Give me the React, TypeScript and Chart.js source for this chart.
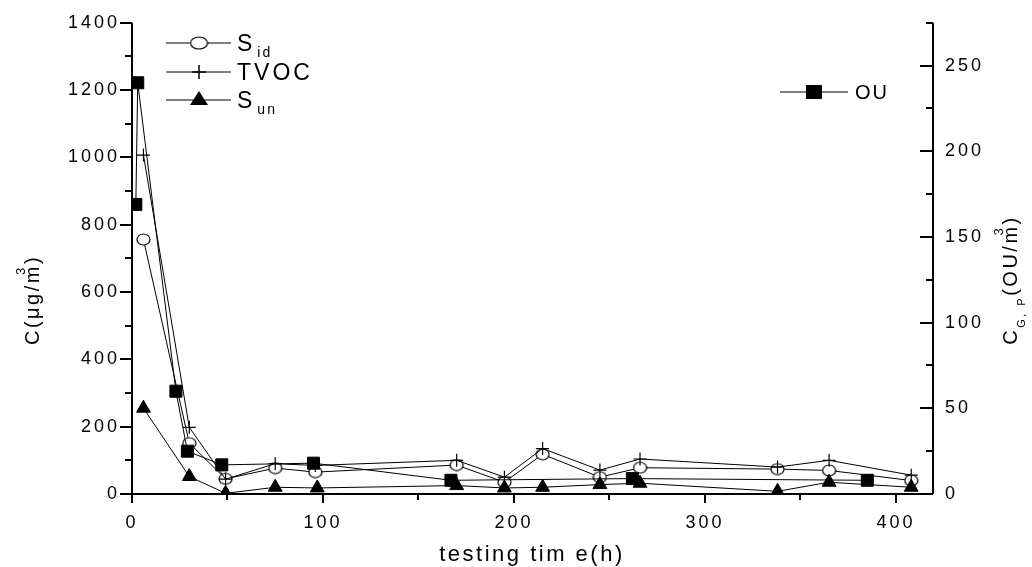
import React, { useEffect, useRef } from 'react';
import { Chart, registerables } from 'chart.js';

Chart.register(...registerables);

// ---- data ----
const timeSid = [6, 30, 49, 75, 96, 170, 195, 215, 245, 266, 338, 365, 408];
const valSid = [756, 151, 45, 77, 65, 86, 35, 118, 50, 78, 74, 70, 40];
const timeTvoc = [6, 30, 49, 75, 96, 170, 195, 215, 245, 266, 338, 365, 408];
const valTvoc = [1007, 198, 44, 90, 85, 100, 50, 135, 71, 104, 80, 100, 56];
const timeSun = [6, 30, 49, 75, 97, 170, 195, 215, 245, 266, 338, 365, 408];
const valSun = [255, 52, 2, 20, 18, 25, 18, 20, 28, 32, 8, 35, 20];
const timeOu = [2, 3, 23, 29, 47, 95, 167, 262, 385];
const valOu = [169, 240, 60, 25, 17, 18, 8, 9, 8];

const xTicks = [0, 100, 200, 300, 400];
const leftTicks = [0, 200, 400, 600, 800, 1000, 1200, 1400];
const rightTicks = [0, 50, 100, 150, 200, 250];

const FONT = "'Liberation Sans', Arial, Helvetica, sans-serif";

type Seg = { t: string; size: number; dy?: number; dx?: number; adv?: number };

function drawRich(ctx: CanvasRenderingContext2D, segs: Seg[], x: number, y: number, ls: string, center = true) {
  ctx.letterSpacing = ls;
  const widths = segs.map((s) => {
    ctx.font = `${s.size}px ${FONT}`;
    return s.adv !== undefined ? s.adv : ctx.measureText(s.t).width;
  });
  const total = widths.reduce((a, b) => a + b, 0);
  let cx = center ? x - total / 2 : x;
  segs.forEach((s, i) => {
    ctx.font = `${s.size}px ${FONT}`;
    ctx.fillText(s.t, cx + (s.dx || 0), y + (s.dy || 0));
    cx += widths[i];
  });
}

function makeEllipse(w: number, h: number) {
  const c = document.createElement('canvas');
  c.width = w + 2;
  c.height = h + 2;
  const g = c.getContext('2d')!;
  g.beginPath();
  g.ellipse((w + 2) / 2, (h + 2) / 2, w / 2, h / 2, 0, 0, Math.PI * 2);
  g.fillStyle = '#ffffff';
  g.fill();
  g.lineWidth = 1.2;
  g.strokeStyle = '#000000';
  g.stroke();
  return c;
}

export default function App() {
  const ref = useRef<HTMLCanvasElement>(null);

  useEffect(() => {
    const canvas = ref.current!;
    const sidMarker = makeEllipse(13, 11);
    const sidLegend = makeEllipse(17, 12);

    const pts = (xs: number[], ys: number[]) => xs.map((x, i) => ({ x, y: ys[i] }));

    const AREA = { left: 132, right: 933, top: 20, bottom: 494 };

    const decor = {
      id: 'decor',
      beforeDraw(chart: any) {
        chart.ctx.letterSpacing = '3px';
      },
      afterDraw(chart: any) {
        const ctx: CanvasRenderingContext2D = chart.ctx;
        const ca = chart.chartArea;
        const ys = chart.scales.y;
        const yr = chart.scales.y1;
        const xs = chart.scales.x;
        ctx.save();
        ctx.strokeStyle = '#000';
        ctx.fillStyle = '#000';
        // axis lines
        ctx.lineWidth = 2;
        ctx.beginPath();
        ctx.moveTo(ca.left, ca.top);
        ctx.lineTo(ca.left, ca.bottom);
        ctx.lineTo(ca.right, ca.bottom);
        ctx.moveTo(ca.right, ca.top);
        ctx.lineTo(ca.right, ca.bottom);
        ctx.stroke();
        // ticks
        ctx.lineWidth = 2;
        ctx.beginPath();
        for (let v = 0; v <= 1400; v += 100) {
          const py = Math.round(ys.getPixelForValue(v));
          const len = v % 200 === 0 ? 12 : 7;
          ctx.moveTo(ca.left - len, py);
          ctx.lineTo(ca.left, py);
        }
        for (let v = 0; v <= 275; v += 25) {
          const py = Math.round(yr.getPixelForValue(v));
          const len = v % 50 === 0 ? 13 : 7;
          ctx.moveTo(ca.right - len, py);
          ctx.lineTo(ca.right, py);
        }
        for (let v = 0; v <= 400; v += 50) {
          const px = Math.round(xs.getPixelForValue(v));
          const len = v % 100 === 0 ? 9 : 6;
          ctx.moveTo(px, ca.bottom);
          ctx.lineTo(px, ca.bottom + len);
        }
        ctx.stroke();

        // legend (left)
        ctx.lineWidth = 1;
        ctx.textBaseline = 'alphabetic';
        ctx.textAlign = 'left';
        const rows = [43, 72, 100];
        rows.forEach((ry) => {
          ctx.beginPath();
          ctx.moveTo(166, ry);
          ctx.lineTo(231, ry);
          ctx.stroke();
        });
        ctx.drawImage(sidLegend, 199 - sidLegend.width / 2, rows[0] - sidLegend.height / 2);
        ctx.lineWidth = 1.5;
        ctx.beginPath();
        ctx.moveTo(192, rows[1]);
        ctx.lineTo(206, rows[1]);
        ctx.moveTo(199, rows[1] - 7);
        ctx.lineTo(199, rows[1] + 7);
        ctx.stroke();
        ctx.beginPath();
        ctx.moveTo(199, rows[2] - 9);
        ctx.lineTo(208, rows[2] + 5);
        ctx.lineTo(190, rows[2] + 5);
        ctx.closePath();
        ctx.fill();
        drawRich(ctx, [{ t: 'S', size: 23 }, { t: 'id', size: 14, dy: 6, dx: 3 }], 237, rows[0] + 8, '2px', false);
        drawRich(ctx, [{ t: 'TVOC', size: 23 }], 237, rows[1] + 8, '3px', false);
        drawRich(ctx, [{ t: 'S', size: 23 }, { t: 'un', size: 14, dy: 6, dx: 3 }], 237, rows[2] + 8, '2px', false);

        // legend (right)
        ctx.lineWidth = 1;
        ctx.beginPath();
        ctx.moveTo(780, 92);
        ctx.lineTo(848, 92);
        ctx.stroke();
        ctx.fillRect(806, 85, 16, 14);
        drawRich(ctx, [{ t: 'OU', size: 20 }], 855, 99, '2px', false);

        // axis titles
        ctx.textBaseline = 'middle';
        ctx.save();
        ctx.translate(33, 300);
        ctx.rotate(-Math.PI / 2);
        drawRich(
          ctx,
          [
            { t: 'C(μg/m', size: 20 },
            { t: '3', size: 13, dy: -12, dx: -11, adv: 0 },
            { t: ')', size: 20 },
          ],
          0,
          0,
          '2.5px'
        );
        ctx.restore();

        ctx.save();
        ctx.translate(1011, 280);
        ctx.rotate(-Math.PI / 2);
        drawRich(
          ctx,
          [
            { t: 'C', size: 20 },
            { t: 'G, P', size: 11, dy: 11 },
            { t: '(OU/m', size: 20 },
            { t: '3', size: 13, dy: -12, dx: -11, adv: 0 },
            { t: ')', size: 20 },
          ],
          0,
          0,
          '2.5px'
        );
        ctx.restore();

        ctx.textBaseline = 'alphabetic';
        drawRich(ctx, [{ t: 'testing tim e(h)', size: 22 }], 532, 561, '2.5px');
        ctx.restore();
      },
    };

    const lineDs = (label: string, data: any[], axis: string, style: any) => ({
      label,
      data,
      yAxisID: axis,
      borderColor: '#000',
      borderWidth: 1,
      showLine: true,
      tension: 0,
      ...style,
    });

    const plain = (v: any) => String(v);

    const chart = new Chart(canvas, {
      type: 'scatter',
      data: {
        datasets: [
          lineDs('OU', pts(timeOu, valOu), 'y1', {
            pointStyle: 'rect',
            pointRadius: 8.5,
            pointBackgroundColor: '#000',
            pointBorderColor: '#000',
            pointBorderWidth: 1,
          }),
          lineDs('S_un', pts(timeSun, valSun), 'y', {
            pointStyle: 'triangle',
            pointRadius: 8,
            pointBackgroundColor: '#000',
            pointBorderColor: '#000',
            pointBorderWidth: 1,
          }),
          lineDs('TVOC', pts(timeTvoc, valTvoc), 'y', {
            pointStyle: 'cross',
            pointRadius: 6.5,
            pointBorderColor: '#000',
            pointBorderWidth: 1.2,
          }),
          lineDs('S_id', pts(timeSid, valSid), 'y', {
            pointStyle: sidMarker,
            pointRadius: 7,
          }),
        ],
      },
      options: {
        responsive: false,
        animation: false,
        devicePixelRatio: 1,
        layout: { padding: { top: AREA.top, left: 0, right: 0, bottom: 0 } },
        plugins: { legend: { display: false }, tooltip: { enabled: false }, title: { display: false } },
        scales: {
          x: {
            type: 'linear',
            min: 0,
            max: 419.4,
            afterBuildTicks: (s: any) => {
              s.ticks = xTicks.map((v) => ({ value: v }));
            },
            afterFit: (s: any) => {
              s.height = 567 - AREA.bottom;
            },
            grid: { display: false, drawTicks: false },
            border: { display: false },
            ticks: { color: '#000', font: { family: FONT, size: 18 }, padding: 18, maxRotation: 0, callback: plain },
          },
          y: {
            position: 'left',
            min: 0,
            max: 1400,
            afterBuildTicks: (s: any) => {
              s.ticks = leftTicks.map((v) => ({ value: v }));
            },
            afterFit: (s: any) => {
              s.width = AREA.left;
            },
            grid: { display: false, drawTicks: false },
            border: { display: false },
            ticks: { color: '#000', font: { family: FONT, size: 18 }, padding: 12, callback: plain },
          },
          y1: {
            position: 'right',
            min: 0,
            max: 275,
            afterBuildTicks: (s: any) => {
              s.ticks = rightTicks.map((v) => ({ value: v }));
            },
            afterFit: (s: any) => {
              s.width = 1032 - AREA.right;
            },
            grid: { display: false, drawTicks: false },
            border: { display: false },
            ticks: { color: '#000', font: { family: FONT, size: 18 }, padding: 12, callback: plain },
          },
        },
      },
      plugins: [decor],
    } as any);

    return () => chart.destroy();
  }, []);

  return (
    <div style={{ position: 'fixed', left: 0, top: 0, width: 1032, height: 567, background: '#fff' }}>
      <canvas ref={ref} width={1032} height={567} style={{ width: 1032, height: 567, display: 'block' }} />
    </div>
  );
}
